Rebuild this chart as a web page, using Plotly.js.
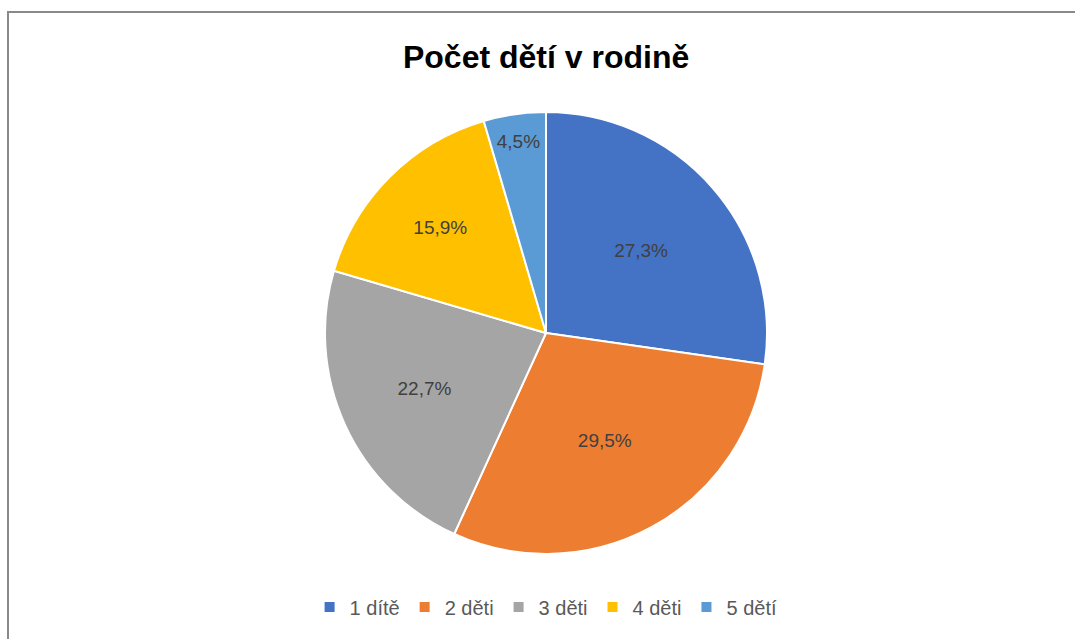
<!DOCTYPE html>
<html><head><meta charset="utf-8">
<script src="https://cdn.plot.ly/plotly-3.0.1.min.js"></script>
<style>
html,body{margin:0;padding:0;background:#fff;overflow:hidden;}
#frame{position:absolute;left:7px;top:11px;width:1100px;height:700px;border-left:2px solid #898989;border-top:2px solid #898989;box-sizing:border-box;pointer-events:none;z-index:5;}
#chart{position:absolute;left:0;top:0;width:1075px;height:639px;}
</style></head>
<body>
<div id="chart"></div>
<div id="frame"></div>
<script>
const categories = ['1 dítě', '2 děti', '3 děti', '4 děti', '5 dětí'];
const counts = [12, 13, 10, 7, 2];
const colors = ['#4472C4', '#ED7D31', '#A5A5A5', '#FFC000', '#5B9BD5'];
const chartTitle = 'Počet dětí v rodině';

const trace = {
  type: 'pie',
  labels: categories,
  values: counts,
  sort: false,
  direction: 'clockwise',
  rotation: 0,
  marker: {colors: colors, line: {color: '#ffffff', width: 2}},
  textinfo: 'percent',
  texttemplate: '%{percent:.1%}',
  textposition: 'inside',
  insidetextorientation: 'horizontal',
  textfont: {family: 'Liberation Sans, Arial, sans-serif', size: 19, color: '#404040'},
  hoverinfo: 'label+percent',
  domain: {x: [325/1075, 767/1075], y: [(639-554)/639, (639-112)/639]},
  automargin: false
};

const layout = {
  width: 1075, height: 639,
  margin: {l: 0, r: 0, t: 0, b: 0},
  paper_bgcolor: '#ffffff',
  separators: ', ',
  title: {text: chartTitle, x: 0.508, xanchor: 'center', y: 1 - 57/639, yanchor: 'middle',
          font: {family: 'Liberation Sans, Arial, sans-serif', size: 32, color: '#000000', weight: 'bold'}},
  showlegend: true,
  legend: {orientation: 'h', x: 0.508, xanchor: 'center', y: 1 - 607/639, yanchor: 'middle',
           font: {family: 'Liberation Sans, Arial, sans-serif', size: 20, color: '#595959'},
           itemwidth: 30, traceorder: 'normal'}
};

Plotly.newPlot('chart', [trace], layout, {displayModeBar: false, staticPlot: true});
</script>
</body></html>
